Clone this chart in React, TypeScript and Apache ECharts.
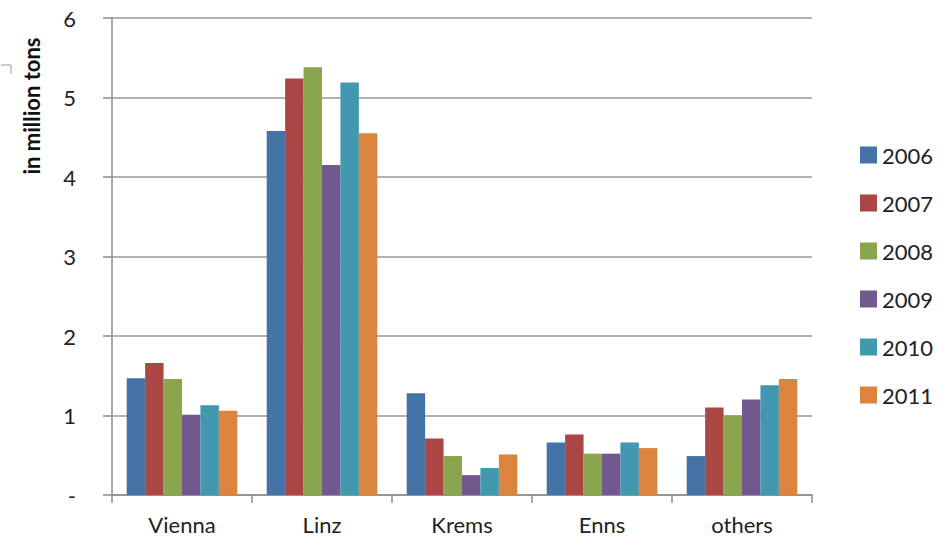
import React, { useEffect, useRef } from "react";
import * as echarts from "echarts";

const categories = ["Vienna", "Linz", "Krems", "Enns", "others"];
const years = ["2006", "2007", "2008", "2009", "2010", "2011"];
const v2006 = [1.47, 4.58, 1.28, 0.66, 0.49];
const v2007 = [1.66, 5.24, 0.71, 0.76, 1.1];
const v2008 = [1.46, 5.38, 0.49, 0.52, 1.0];
const v2009 = [1.01, 4.15, 0.25, 0.52, 1.2];
const v2010 = [1.13, 5.19, 0.34, 0.66, 1.38];
const v2011 = [1.06, 4.55, 0.51, 0.59, 1.46];
const seriesValues = [v2006, v2007, v2008, v2009, v2010, v2011];
const colors = ["#4572A7", "#AA4643", "#89A54E", "#71588F", "#4198AF", "#DB843D"];
const yTicks = [0, 1, 2, 3, 4, 5, 6];

const FONT = "Lato, 'Open Sans', sans-serif";

export default function App() {
  const ref = useRef<HTMLDivElement>(null);
  useEffect(() => {
    if (!ref.current) return;
    const chart = echarts.init(ref.current, null, { renderer: "svg" });
    chart.setOption({
      animation: false,
      color: colors,
      textStyle: { fontFamily: FONT },
      grid: { left: 112, right: 140, top: 18, bottom: 50, containLabel: false },
      legend: {
        orient: "vertical",
        left: 855,
        top: 139,
        itemWidth: 17,
        itemHeight: 17,
        itemGap: 26,
        icon: "rect",
        data: years,
        textStyle: { fontSize: 22, color: "#222", lineHeight: 22, fontFamily: FONT },
      },
      xAxis: {
        type: "category",
        data: categories,
        axisLine: { lineStyle: { color: "#8c8c8c", width: 1.5 } },
        axisTick: { show: true, length: 8, interval: 0, lineStyle: { color: "#8c8c8c", width: 1.5 } },
        axisLabel: { fontSize: 22, color: "#222", margin: 18, fontFamily: FONT },
      },
      yAxis: {
        type: "value",
        min: yTicks[0],
        max: yTicks[yTicks.length - 1],
        interval: 1,
        axisLine: { show: true, lineStyle: { color: "#8c8c8c", width: 1.5 } },
        axisTick: { show: true, length: 9, lineStyle: { color: "#8c8c8c", width: 1.5 } },
        splitLine: { show: true, lineStyle: { color: "#999", width: 1.5 } },
        axisLabel: {
          fontSize: 22,
          color: "#222",
          margin: 36,
          fontFamily: FONT,
          formatter: (v: number) => (v === 0 ? "-" : String(v)),
        },
      },
      graphic: [
        {
          type: "text",
          x: 31,
          y: 106,
          rotation: Math.PI / 2,
          style: {
            text: "in million tons",
            fontSize: 22,
            fontWeight: "bold",
            fill: "#111",
            fontFamily: FONT,
            textAlign: "center",
            textVerticalAlign: "middle",
          },
        },
        {
          type: "polyline",
          shape: { points: [[1, 65], [11, 65], [11, 74]] },
          style: { stroke: "#999", lineWidth: 1, fill: "none" },
        },
      ],
      series: years.map((y, i) => ({
        name: y,
        type: "bar",
        data: seriesValues[i],
        barGap: "0%",
        barCategoryGap: "21%",
      })),
    });
    return () => chart.dispose();
  }, []);
  return <div ref={ref} style={{ position: "absolute", left: 0, top: 0, width: 952, height: 545 }} />;
}
